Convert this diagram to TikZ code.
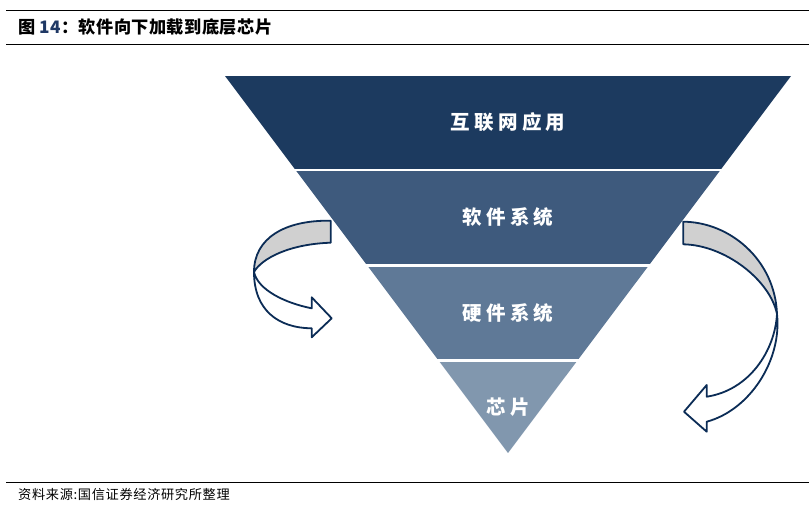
\documentclass[tikz,border=0pt]{standalone}
\usepackage{fontspec}
\usetikzlibrary{positioning}
\newfontfamily\cjk{Noto Sans CJK SC}
\newfontfamily\cjkwide[LetterSpace=22]{Noto Sans CJK SC}
\newfontfamily\cjkfoot[LetterSpace=5]{Noto Sans CJK SC}
\newfontfamily\cjktitle[LetterSpace=2.5]{Noto Sans CJK SC}
\definecolor{bandone}{HTML}{1C3A5F}
\definecolor{bandtwo}{HTML}{3E5A7D}
\definecolor{bandthree}{HTML}{5F7997}
\definecolor{bandfour}{HTML}{8197AE}
\definecolor{arrownavy}{HTML}{0B2C56}
\definecolor{backgray}{HTML}{D0D0D0}
\definecolor{titlenavy}{HTML}{1F3864}

\begin{document}
\begin{tikzpicture}[x=1pt, y=-1pt,
    bandlabel/.style={text=white, font=\cjkwide\bfseries\fontsize{19.5}{22}\selectfont},
    arrowline/.style={draw=arrownavy, line width=1.8pt, line join=round}]
  \useasboundingbox (0,0) rectangle (809,507);
  % Cabecera
  \draw[line width=1.3pt] (6,10.5) -- (809,10.5);
  \draw[line width=1pt] (6,44) -- (809,44);
  \node[anchor=west, inner sep=0pt, font=\cjktitle\bfseries\fontsize{17.2}{20}\selectfont] (titulo) at (18,27) {图 \textcolor{titlenavy}{14}：软件向下加载到底层芯片};
  % Piramide invertida
  \foreach \ya/\yb/\col/\name/\txt in {76/168.5/bandone/internet/互联网应用, 171/264/bandtwo/software/软件系统, 267/359/bandthree/hardware/硬件系统, 362/453/bandfour/chip/芯片} {
    \begin{scope}
      \clip (225,76) -- (791,76) -- (508,453) -- cycle;
      \fill[\col] (200,\ya) rectangle (820,\yb);
    \end{scope}
    \node[bandlabel] (\name) at (508,{(\ya+\yb)/2}) {\txt};
  }
  % Flecha izquierda
  \draw[arrowline, fill=backgray] (330.7,220.7) .. controls (285,220) and (254,238) .. (254,272)
    .. controls (262,258) and (290,244) .. (330.7,242.7) -- cycle;
  \draw[arrowline, fill=white] (254,272) .. controls (258,290) and (285,303) .. (311.7,308.3)
    -- (311.7,297.3) -- (331.7,318.3) -- (311.7,337.3) -- (311.7,328.3)
    .. controls (278,328) and (254,310) .. (254,272) -- cycle;
  % Flecha derecha
  \draw[arrowline, fill=backgray] (683.3,221.7) .. controls (730,222) and (775,260) .. (777,314)
    .. controls (770,280) and (725,245) .. (683.3,244.3) -- cycle;
  \draw[arrowline, fill=white] (777,314) .. controls (782,360) and (750,410) .. (706.7,421.7)
    -- (706.7,431.7) -- (684,411.7) -- (706.7,385) -- (706.7,396.7)
    .. controls (750,390) and (775,350) .. (777,314) -- cycle;
  % Pie
  \draw[line width=1pt] (6,482.5) -- (809,482.5);
  \node[anchor=west, inner sep=0pt, font=\cjkfoot\fontsize{13.2}{15}\selectfont] (fuente) at (18,494) {资料来源:国信证券经济研究所整理};
\end{tikzpicture}
\end{document}
